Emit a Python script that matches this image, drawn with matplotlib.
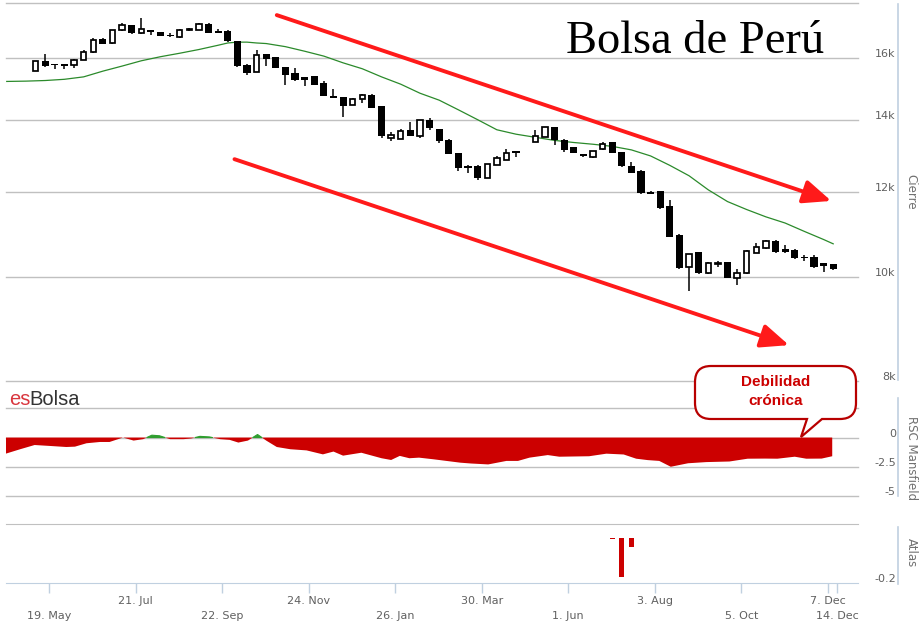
import numpy as np
import pandas as pd
import matplotlib
matplotlib.use("Agg")
import matplotlib.pyplot as plt
import matplotlib.dates as mdates
from matplotlib.path import Path
from matplotlib.patches import PathPatch
from matplotlib.ticker import NullLocator, NullFormatter
from matplotlib.transforms import ScaledTranslation

# Bolsa de Perú - velas semanales, media movil, RSC Mansfield y Atlas

W, H = 924, 626
nan = np.nan

# velas semanales (viernes), la primera el 9 de mayo de 2014; la semana 51 no tiene dato
first_week = "2014-05-09"
opens = [15580, 15890, 15800, 15790, 15750, 15950, 16200, 16680, 16520, 16980,
         17170, 16870, 16980, 16910, 16820, 16750, 16980, 17010, 17230, 16950,
         16970, 16600, 15780, 15540, 16150, 16040, 15700, 15500, 15350, 15390,
         15170, 14760, 14720, 14480, 14670, 14790, 14430, 13470, 13460, 13720,
         13530, 14000, 13740, 13430, 13050, 12700, 12700, 12370, 12730, 12860,
         13100, nan, 13360, 13520, 13800, 13430, 13210, 13020, 12950, 13160,
         13360, 13070, 12700, 12570, 12010, 12030, 11650, 10950, 10210, 10550,
         10080, 10290, 10320, 9990, 10080, 10540, 10640, 10810, 10610, 10600,
         10450, 10430, 10300, 10280]
highs = [15910, 16150, 15800, 15800, 15970, 16290, 16700, 16710, 16990, 17250,
         17180, 17440, 16990, 16920, 16890, 17020, 17060, 17240, 17240, 17040,
         16980, 16610, 15790, 16270, 16160, 16050, 15710, 15670, 15360, 15400,
         15220, 14980, 14730, 14680, 14800, 14800, 14440, 13650, 13740, 13940,
         14010, 14070, 13750, 13440, 13060, 12710, 12710, 12760, 12970, 13160,
         13110, nan, 13720, 13810, 13810, 13440, 13220, 13030, 13120, 13350,
         13370, 13080, 12800, 12580, 12040, 12040, 11800, 10960, 10510, 10560,
         10320, 10350, 10330, 10170, 10590, 10770, 10820, 10820, 10710, 10610,
         10480, 10480, 10310, 10290]
lows = [15550, 15690, 15640, 15640, 15660, 15940, 16170, 16500, 16510, 16970,
        16860, 16860, 16830, 16780, 16760, 16700, 16950, 17000, 16880, 16890,
        16580, 15710, 15420, 15530, 15720, 15660, 15090, 15250, 15060, 15100,
        14750, 14680, 14090, 14470, 14530, 14370, 13470, 13380, 13450, 13530,
        13470, 13720, 13330, 13020, 12550, 12500, 12320, 12360, 12720, 12850,
        12950, nan, 13350, 13510, 13280, 13070, 13050, 12930, 12900, 13150,
        13040, 12660, 12500, 11960, 11940, 11580, 10900, 10180, 9710, 10070,
        10070, 10210, 9980, 9830, 10070, 10530, 10630, 10540, 10540, 10400,
        10350, 10200, 10110, 10160]
closes = [15890, 15720, 15750, 15740, 15950, 16200, 16650, 16510, 16980, 17170,
          16870, 17030, 16910, 16790, 16770, 17010, 17030, 17230, 16890, 16900,
          16590, 15720, 15500, 16120, 15970, 15670, 15440, 15260, 15280, 15110,
          14760, 14690, 14450, 14670, 14790, 14380, 13530, 13570, 13680, 13540,
          14000, 13760, 13380, 13030, 12630, 12640, 12370, 12750, 12910, 13060,
          13050, nan, 13530, 13800, 13410, 13140, 13060, 12980, 13110, 13310,
          13050, 12690, 12510, 11970, 11950, 11590, 10910, 10190, 10500, 10080,
          10310, 10310, 9990, 10090, 10580, 10670, 10810, 10550, 10550, 10410,
          10410, 10210, 10250, 10170]

ma_weeks = [-3, -1, 1, 3, 5, 7, 9, 11, 13, 15, 17, 19, 20, 21, 22, 23, 24, 26,
            28, 30, 32, 34, 36, 38, 40, 42, 44, 46, 48, 50, 52, 54, 56, 58, 60,
            62, 64, 66, 68, 70, 72, 74, 76, 78, 80, 82, 83]
ma_vals = [15220, 15230, 15250, 15290, 15370, 15560, 15730, 15910, 16050,
           16170, 16300, 16450, 16530, 16560, 16560, 16530, 16510, 16400,
           16240, 16070, 15840, 15640, 15370, 15130, 14840, 14620, 14320,
           14020, 13720, 13590, 13500, 13410, 13350, 13300, 13240, 13140,
           12970, 12710, 12430, 12060, 11760, 11560, 11380, 11230, 11030,
           10840, 10740]

# RSC Mansfield
rsc_weeks = [-3.1, -1.6, -0.1, 1.5, 3.2, 4.1, 5.3, 6.7, 7.7, 9.1, 10.2, 11.2,
             12.1, 12.9, 14.0, 15.4, 16.2, 17.1, 18.1, 19.2, 20.2, 21.1, 22.1,
             23.1, 24.0, 25.1, 26.5, 28.2, 29.9, 31.0, 32.0, 33.9, 36.0, 37.0,
             37.9, 38.9, 39.9, 41.4, 44.2, 45.3, 47.1, 49.0, 50.2, 51.4, 53.3,
             54.5, 57.6, 59.4, 61.2, 62.5, 63.7, 64.9, 66.1, 67.9, 69.8, 72.2,
             74.1, 75.9, 77.2, 79.0, 80.2, 81.8, 82.9]
rsc_vals = [-1.38, -1.0, -0.64, -0.72, -0.81, -0.78, -0.49, -0.38, -0.38, 0.0,
            -0.26, -0.14, 0.2, 0.15, -0.14, -0.14, -0.08, 0.1, 0.05, -0.14,
            -0.2, -0.43, -0.26, 0.26, -0.26, -0.81, -1.0, -1.1, -1.44, -1.2,
            -1.55, -1.3, -1.77, -1.92, -1.57, -1.77, -1.72, -1.86, -2.15,
            -2.22, -2.3, -2.0, -2.0, -1.72, -1.5, -1.64, -1.6, -1.38, -1.45,
            -1.81, -1.93, -2.0, -2.5, -2.2, -2.1, -2.05, -1.81, -1.8, -1.81,
            -1.64, -1.81, -1.8, -1.6]

# Atlas
atlas_weeks = [60, 61, 62]
atlas_vals = [-0.004, -0.172, -0.038]

# canal bajista dibujado a mano: (semana, precio) inicio y fin
upper_arrow = [(25.1, 17550), (82.8, 11776)]
lower_arrow = [(20.7, 12880), (78.4, 8640)]

tick_dates = ["2014-05-19", "2014-07-21", "2014-09-22", "2014-11-24",
              "2015-01-26", "2015-03-30", "2015-06-01", "2015-08-03",
              "2015-10-05", "2015-12-07", "2015-12-14"]
tick_labels = ["19. May", "21. Jul", "22. Sep", "24. Nov", "26. Jan",
               "30. Mar", "1. Jun", "3. Aug", "5. Oct", "7. Dec", "14. Dec"]
tick_row = [1, 0, 1, 0, 1, 0, 1, 0, 1, 0, 1]

price_ticks = [8000, 10000, 12000, 14000, 16000, 18000]
price_labels = ["8k", "10k", "12k", "14k", "16k", ""]
rsc_ticks = [-5, -2.5, 0, 2.5]
rsc_labels = ["-5", "-2.5", "0", ""]

GRID = "#c0c0c0"
AXIS = "#c0d0e0"
LABEL = "#606060"


def week_x(weeks):
    return mdates.date2num(pd.Timestamp(first_week)) + 7 * np.asarray(weeks, float)


def box(left, top, right, bottom):
    # caja en pixeles (origen arriba a la izquierda) -> fraccion de figura
    return [left / W, 1 - bottom / H, (right - left) / W, (bottom - top) / H]


def shift_labels(ax, fig, dy_px):
    off = ScaledTranslation(0, dy_px / 100, fig.dpi_scale_trans)
    for lbl in ax.get_yticklabels():
        lbl.set_transform(lbl.get_transform() + off)
        lbl.set_horizontalalignment("right")


fig = plt.figure(figsize=(W / 100, H / 100), dpi=100)
fig.patch.set_facecolor("white")

xmin = mdates.date2num(pd.Timestamp("2014-04-17 11:00"))
xmax = mdates.date2num(pd.Timestamp("2015-12-29 07:00"))

ax = fig.add_axes(box(6, 3.3, 858.3, 381))
ax_rsc = fig.add_axes(box(6, 408.3, 858.3, 496))
ax_at = fig.add_axes(box(6, 524.3, 858.3, 583))

for a in (ax, ax_rsc, ax_at):
    a.set_xlim(xmin, xmax)
    a.set_facecolor("none")
    for s in a.spines.values():
        s.set_visible(False)
    a.set_axisbelow(True)
    a.yaxis.tick_right()
    a.tick_params(axis="y", length=0, labelsize=8, labelcolor=LABEL, pad=27)
    a.grid(axis="y", color=GRID, lw=1)
    a.set_xticks([])

# --- panel de precios ---
ax.set_yscale("log")
ax.set_ylim(8000, 18000)
ax.set_yticks(price_ticks, price_labels)
ax.yaxis.set_minor_locator(NullLocator())
ax.yaxis.set_minor_formatter(NullFormatter())
shift_labels(ax, fig, 5)

cx = week_x(np.arange(len(opens)))
o = np.array(opens, float)
hi = np.array(highs, float)
lo = np.array(lows, float)
c = np.array(closes, float)
ok = ~np.isnan(o)
up = ok & (c >= o)
dn = ok & (c < o)

ax.vlines(cx[ok], lo[ok], hi[ok], color="black", lw=1.1, zorder=2)
ax.bar(cx[dn], (o - c)[dn], bottom=c[dn], width=5.2, color="black",
       lw=0, zorder=3)
ax.bar(cx[up], np.maximum((c - o)[up], 15), bottom=o[up], width=3.9,
       facecolor="white", edgecolor="black", lw=1.25, zorder=3)

ax.plot(week_x(ma_weeks), ma_vals, color="#2b8a2b", lw=0.9, zorder=1)

for (w0, p0), (w1, p1) in (upper_arrow, lower_arrow):
    ax.annotate("", xy=(week_x(w1), p1), xytext=(week_x(w0), p0),
                arrowprops=dict(arrowstyle="-|>,head_length=0.85,head_width=0.36",
                                color="#ff1a1a", lw=2.8, mutation_scale=20,
                                shrinkA=0, shrinkB=0), zorder=4)

# --- RSC Mansfield ---
ax_rsc.set_ylim(-5, 2.5)
ax_rsc.set_yticks(rsc_ticks, rsc_labels)
shift_labels(ax_rsc, fig, 5)
rx = week_x(rsc_weeks)
rv = np.array(rsc_vals)
ax_rsc.fill_between(rx, rv, 0, where=rv <= 0, interpolate=True,
                    color="#cc0000", lw=0, zorder=2)
ax_rsc.fill_between(rx, rv, 0, where=rv >= 0, interpolate=True,
                    color="#2f9e2f", lw=0.8, edgecolor="#2f9e2f", zorder=2)

# --- Atlas ---
ax_at.set_ylim(-0.2, 0.062)
ax_at.set_yticks([-0.2], ["-0.2"])
shift_labels(ax_at, fig, 5)
ax_at.grid(False)
ax_at.spines["top"].set_visible(True)
ax_at.spines["top"].set_color(GRID)
ax_at.spines["bottom"].set_visible(True)
ax_at.spines["bottom"].set_color(AXIS)
ax_at.bar(week_x(atlas_weeks), atlas_vals, width=3.8, color="#cc0000", lw=0)

tick_x = mdates.date2num(pd.to_datetime(tick_dates))
ax_at.set_xticks(tick_x)
ax_at.set_xticklabels([])
ax_at.tick_params(axis="x", length=7, width=1, color=AXIS, direction="out")
for tx, lab, row in zip(tick_x, tick_labels, tick_row):
    ax_at.annotate(lab, xy=(tx, 0), xycoords=("data", "axes fraction"),
                   xytext=(0, -13 - 11 * row), textcoords="offset points",
                   ha="center", va="center", fontsize=8, color=LABEL)

# las lineas de rejilla en el borde no se recortan a la mitad
for a in (ax, ax_rsc):
    for gl in a.get_ygridlines():
        gl.set_clip_on(False)

# --- capa de adornos en pixeles ---
ov = fig.add_axes([0, 0, 1, 1], zorder=10)
ov.set_xlim(0, W)
ov.set_ylim(H, 0)
ov.axis("off")
ov.patch.set_alpha(0)

for y0, y1 in ((4, 380), (398, 496), (527, 584)):
    ov.plot([898, 898], [y0, y1], color=AXIS, lw=1.2)
ov.text(911, 192, "Cierre", rotation=-90, ha="center", va="center",
        fontsize=8.5, color="#707070")
ov.text(911, 458, "RSC Mansfield", rotation=-90, ha="center", va="center",
        fontsize=8.5, color="#707070")
ov.text(911, 553, "Atlas", rotation=-90, ha="center", va="center",
        fontsize=8.5, color="#707070")

ov.text(566, 53, "Bolsa de Perú", family="Liberation Serif", fontsize=33.5,
        ha="left", va="baseline", color="black")

ov.text(9, 405, "es", family="Liberation Sans", fontsize=14.5,
        ha="left", va="baseline", color="#d9363e")
ov.text(29.5, 405, "Bolsa", family="Liberation Sans", fontsize=14.5,
        ha="left", va="baseline", color="#333333")

# globo "Debilidad crónica"
L, R, T, B, r = 695, 856, 366, 419, 16
tip, p1, p2 = (801, 437), 807, 822
verts = [(L + r, T), (R - r, T), (R, T), (R, T + r), (R, B - r), (R, B),
         (R - r, B), (p2, B), tip, (p1, B), (L + r, B), (L, B), (L, B - r),
         (L, T + r), (L, T), (L + r, T), (L + r, T)]
codes = [Path.MOVETO, Path.LINETO, Path.CURVE3, Path.CURVE3, Path.LINETO,
         Path.CURVE3, Path.CURVE3, Path.LINETO, Path.LINETO, Path.LINETO,
         Path.LINETO, Path.CURVE3, Path.CURVE3, Path.LINETO, Path.CURVE3,
         Path.CURVE3, Path.CLOSEPOLY]
ov.add_patch(PathPatch(Path(verts, codes), facecolor="white",
                       edgecolor="#b80000", lw=1.6))
ov.text(776, 382, "Debilidad", family="Liberation Sans", fontweight="bold",
        fontsize=11, ha="center", va="center", color="#cc0000")
ov.text(776, 401, "crónica", family="Liberation Sans", fontweight="bold",
        fontsize=11, ha="center", va="center", color="#cc0000")

fig.savefig("out.png", dpi=100)
